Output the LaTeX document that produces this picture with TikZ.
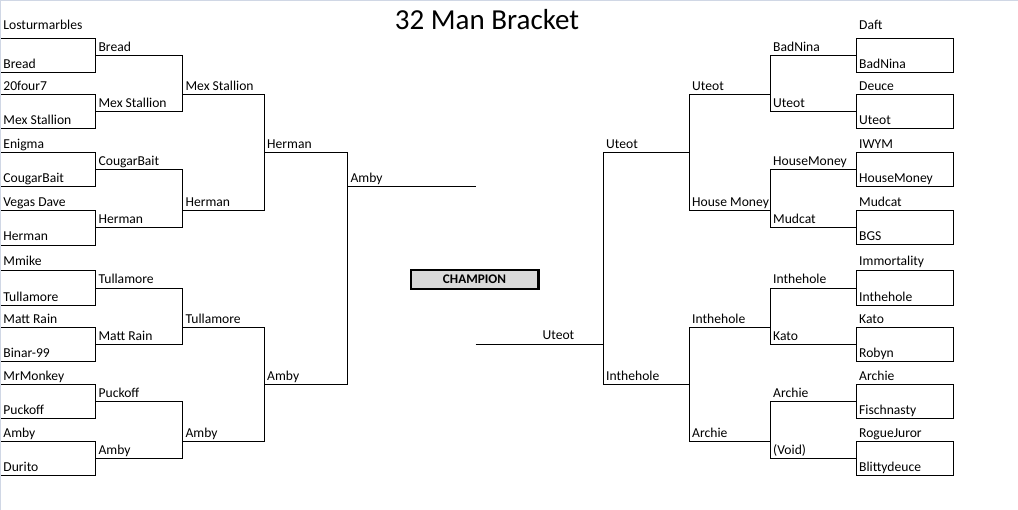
\documentclass[tikz,border=0pt]{standalone}
\usepackage{fontspec}
\setmainfont{Carlito}
\definecolor{champfill}{RGB}{217,217,217}
\definecolor{sheetedge}{RGB}{208,215,229}
\tikzset{
  br/.style={draw=black, line width=1pt, line join=miter},
  lbl/.style={anchor=base west, inner sep=0pt, font=\fontsize{13.6}{15}\selectfont},
  champbox/.style={draw=black, line width=2.4pt, fill=champfill, minimum width=127.6pt, minimum height=19pt, inner sep=0pt, font=\fontsize{13.2}{15}\selectfont\bfseries},
  titletext/.style={anchor=base, inner sep=0pt, font=\fontsize{29}{33}\selectfont}
}
\def\LA{1}\def\LB{95.5}\def\LC{182.5}\def\LD{264.5}\def\LE{347.5}\def\LF{476}
\def\RF{475.5}\def\RE{603.5}\def\RD{689.5}\def\RC{770.5}\def\RB{856.5}\def\RA{953.5}
\begin{document}
\begin{tikzpicture}[x=1pt,y=-1pt]
\useasboundingbox (0,0) rectangle (1018,510);
\fill[white] (0,0) rectangle (1018,510);
\draw[sheetedge, line width=1pt] (0,0.5) -- (1018,0.5);
\draw[sheetedge, line width=1pt] (0.5,0) -- (0.5,510);
% title
\node[titletext] (title) at (487,29.3) {32 Man Bracket};
% ---------- left bracket ----------
\foreach \t/\b in {38.5/72.5, 94.5/128.5, 152.5/186.5, 210.5/245.5, 270.5/305.5, 327.5/361.5, 384.5/418.5, 441.5/475.5}
  \draw[br] (\LA,\t) -- (\LB,\t) -- (\LB,\b) -- (\LA,\b);
\foreach \t/\b in {55.5/111.5, 169.5/227.5, 288.5/344.5, 401.5/458.5}
  \draw[br] (\LB,\t) -- (\LC,\t) -- (\LC,\b) -- (\LB,\b);
\foreach \t/\b in {94.5/210.5, 327.5/441.5}
  \draw[br] (\LC,\t) -- (\LD,\t) -- (\LD,\b) -- (\LC,\b);
\draw[br] (\LD,152.5) -- (\LE,152.5) -- (\LE,384.5) -- (\LD,384.5);
\coordinate (lfinalA) at (\LE,186.5);
\coordinate (lfinalB) at (\LF,186.5);
\draw[br] (lfinalA) -- (lfinalB);
% ---------- right bracket ----------
\foreach \t/\b in {38.5/72.5, 94.5/128.5, 152.5/186.5, 210.5/244.5, 270.5/305.5, 327.5/361.5, 384.5/418.5, 441.5/475.5}
  \draw[br] (\RB,\t) rectangle (\RA,\b);
\foreach \t/\b in {55.5/111.5, 169.5/227.5, 288.5/344.5, 401.5/458.5}
  \draw[br] (\RB,\t) -- (\RC,\t) -- (\RC,\b) -- (\RB,\b);
\foreach \t/\b in {94.5/210.5, 327.5/441.5}
  \draw[br] (\RC,\t) -- (\RD,\t) -- (\RD,\b) -- (\RC,\b);
\draw[br] (\RD,152.5) -- (\RE,152.5) -- (\RE,384.5) -- (\RD,384.5);
\coordinate (rfinalA) at (\RF,344.5);
\coordinate (rfinalB) at (\RE,344.5);
\draw[br] (rfinalA) -- (rfinalB);
% champion
\node[champbox] (champ) at (474.5,279.5) {CHAMPION};
% ---------- left labels ----------
\foreach \y/\n [count=\i] in {30/Losturmarbles, 68.3/Bread, 91/20four7, 124.3/Mex Stallion, 149/Enigma, 182.7/CougarBait, 206.7/Vegas Dave, 240.7/Herman, 265.7/Mmike, 301.7/Tullamore, 324/Matt Rain, 357.7/Binar-99, 380.7/MrMonkey, 414.7/Puckoff, 437.3/Amby, 471.7/Durito}
  \node[lbl] (la\i) at (3.2,\y) {\n};
\foreach \y/\n [count=\i] in {51.7/Bread, 107.7/Mex Stallion, 165.7/CougarBait, 223.3/Herman, 283.7/Tullamore, 340.7/Matt Rain, 397.7/Puckoff, 454.3/Amby}
  \node[lbl] (lb\i) at (98.4,\y) {\n};
\foreach \y/\n [count=\i] in {90.7/Mex Stallion, 206.7/Herman, 323.7/Tullamore, 437.7/Amby}
  \node[lbl] (lc\i) at (185.4,\y) {\n};
\foreach \y/\n [count=\i] in {148.7/Herman, 380.7/Amby}
  \node[lbl] (ld\i) at (267,\y) {\n};
\node[lbl] (le1) at (350.4,182.7) {Amby};
% ---------- right labels ----------
\node[lbl] (re1) at (542.4,340) {Uteot};
\foreach \y/\n [count=\i] in {148.3/Uteot, 380.7/Inthehole}
  \node[lbl] (rd\i) at (606,\y) {\n};
\foreach \y/\n [count=\i] in {90.7/Uteot, 206.7/House Money, 323.7/Inthehole, 437.7/Archie}
  \node[lbl] (rc\i) at (692,\y) {\n};
\foreach \y/\n [count=\i] in {51.7/BadNina, 107.7/Uteot, 165.7/HouseMoney, 223.3/Mudcat, 283.7/Inthehole, 340.7/Kato, 397.7/Archie, 454.3/(Void)}
  \node[lbl] (rb\i) at (773,\y) {\n};
\foreach \y/\n [count=\i] in {29.3/Daft, 68.3/BadNina, 91/Deuce, 124.3/Uteot, 149/IWYM, 182.7/HouseMoney, 206.7/Mudcat, 240.7/BGS, 265.7/Immortality, 301.7/Inthehole, 324/Kato, 357.7/Robyn, 380.7/Archie, 414.7/Fischnasty, 437.3/RogueJuror, 471.7/Blittydeuce}
  \node[lbl] (ra\i) at (859,\y) {\n};
\end{tikzpicture}
\end{document}
